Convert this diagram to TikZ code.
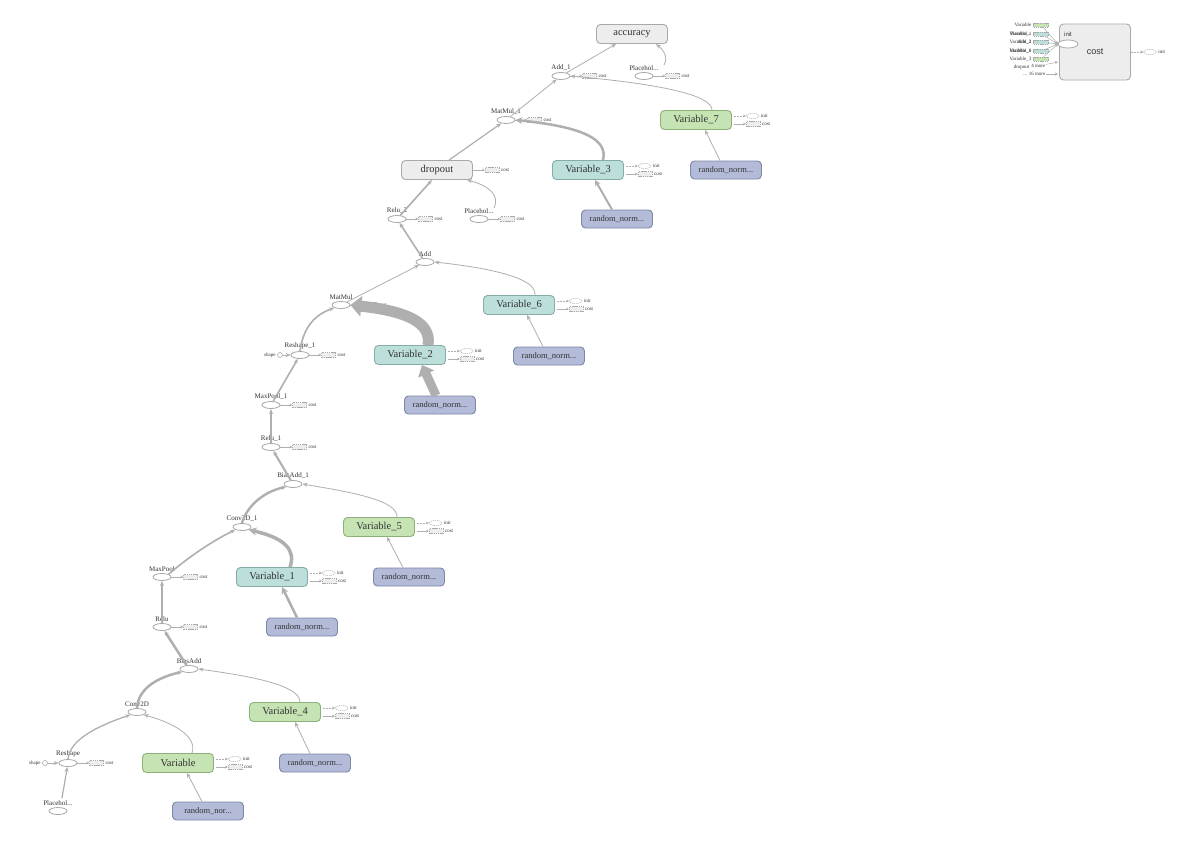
\documentclass[tikz,border=0pt]{standalone}
\usepackage{fontspec}
\setmainfont{Liberation Serif}
\newfontfamily\sansfont{Liberation Sans}
\usetikzlibrary{positioning,shapes.geometric,arrows.meta,calc}

\definecolor{grayfill}{HTML}{EDEDED}
\definecolor{grayline}{HTML}{A9A9A9}
\definecolor{greenfill}{HTML}{C6E3B3}
\definecolor{greenline}{HTML}{8DB07B}
\definecolor{tealfill}{HTML}{BCDFDB}
\definecolor{tealline}{HTML}{86ACA8}
\definecolor{bluefill}{HTML}{B3BBD8}
\definecolor{blueline}{HTML}{7D87A6}
\definecolor{flowgray}{HTML}{AFAFAF}
\definecolor{txtgray}{HTML}{333333}

\begin{document}
\begin{tikzpicture}[x=1pt,y=-1pt,
		meta/.style={
			draw,
			rounded corners=4pt,
			line width=0.9pt,
			minimum width=71pt,
			minimum height=19pt,
			inner sep=0pt,
			text=txtgray,
			font=\fontsize{10.5}{12}\selectfont
		},
		metagray/.style={meta, draw=grayline, fill=grayfill},
		vargreen/.style={meta, draw=greenline, fill=greenfill},
		varteal/.style={meta, draw=tealline, fill=tealfill},
		randblue/.style={meta, draw=blueline, fill=bluefill, minimum height=18pt,
			font=\fontsize{8.5}{10}\selectfont},
		opnode/.style={
			ellipse,
			draw=grayline,
			fill=white,
			line width=0.8pt,
			minimum width=18pt,
			minimum height=7pt,
			inner sep=0pt
		},
		oplbl/.style={font=\fontsize{7}{8}\selectfont, text=txtgray, inner sep=1.5pt},
		smalltxt/.style={font=\fontsize{5}{6}\selectfont, text=txtgray, inner sep=0.5pt},
		costbox/.style={draw=grayline, dash pattern=on 1.5pt off 0.7pt, fill=grayfill, line width=0.4pt,
			minimum width=14pt, minimum height=5pt, inner sep=0pt},
		initell/.style={ellipse, draw=grayline, dash pattern=on 1.5pt off 0.7pt, fill=white, line width=0.4pt,
			minimum width=13pt, minimum height=5pt, inner sep=0pt},
		inbox/.style={draw=grayline, dash pattern=on 1.5pt off 0.7pt, line width=0.3pt,
			minimum width=15pt, minimum height=4pt, inner sep=0pt},
		smallcirc/.style={circle, draw=grayline, fill=white, line width=0.6pt,
			minimum size=5pt, inner sep=0pt},
		flow/.style={draw=flowgray, line width=0.8pt, -{Stealth[length=5pt,width=4pt]}},
		aux/.style={draw=flowgray, line width=0.5pt, -{Stealth[length=3pt,width=3pt]}}
		]
		
		\path[fill=white] (0,0) rectangle (1190,846);
		\useasboundingbox (0,0) rectangle (1190,846);
		
		% Output part
		\node[metagray] (acc) at (632,34) {accuracy};
		\node[opnode, label={[oplbl]above:Add\_1}] (add1) at (561,76) {};
		\node[opnode, label={[oplbl]above:Placehol...}] (plc1) at (644,76) {};
		\node[opnode, label={[oplbl]above:MatMul\_1}] (matmul1) at (506,120) {};
		\node[vargreen] (var7) at (696,120) {Variable\_7};
		\node[randblue] (rn7) at (726,170) {random\_norm...};
		\node[metagray] (dropout) at (437,170) {dropout};
		\node[varteal] (var3) at (588,170) {Variable\_3};
		\node[randblue] (rn3) at (617,219) {random\_norm...};
		\node[opnode, label={[oplbl]above:Relu\_2}] (relu2) at (397,219) {};
		\node[opnode, label={[oplbl]above:Placehol...}] (plc2) at (479,219) {};
		
		% Fully connected part
		\node[opnode, label={[oplbl]above:Add}] (add) at (425,262) {};
		\node[opnode, label={[oplbl]above:MatMul}] (matmul) at (341,305) {};
		\node[varteal] (var6) at (519,305) {Variable\_6};
		\node[randblue] (rn6) at (549,356) {random\_norm...};
		\node[opnode, label={[oplbl]above:Reshape\_1}] (reshape1) at (300,355) {};
		\node[smallcirc] (shp1) at (280,355) {};
		\node[smalltxt, left=1pt of shp1] (shp1t) {shape};
		\node[varteal] (var2) at (410,355) {Variable\_2};
		\node[randblue] (rn2) at (440,405) {random\_norm...};
		
		% Second conv layer
		\node[opnode, label={[oplbl]above:MaxPool\_1}] (maxpool1) at (271,405) {};
		\node[opnode, label={[oplbl]above:Relu\_1}] (relu1) at (271,447) {};
		\node[opnode, label={[oplbl]above:BiasAdd\_1}] (biasadd1) at (293,484) {};
		\node[opnode, label={[oplbl]above:Conv2D\_1}] (conv2d1) at (242,527) {};
		\node[vargreen] (var5) at (379,527) {Variable\_5};
		\node[randblue] (rn5) at (409,577) {random\_norm...};
		\node[varteal] (var1) at (272,577) {Variable\_1};
		\node[randblue] (rn1) at (302,627) {random\_norm...};
		
		% First conv layer
		\node[opnode, label={[oplbl]above:MaxPool}] (maxpool) at (162,577) {};
		\node[opnode, label={[oplbl]above:Relu}] (relu) at (162,627) {};
		\node[opnode, label={[oplbl]above:BiasAdd}] (biasadd) at (189,669) {};
		\node[opnode, label={[oplbl]above:Conv2D}] (conv2d) at (137,712) {};
		\node[vargreen] (var4) at (285,712) {Variable\_4};
		\node[randblue] (rn4) at (315,763) {random\_norm...};
		\node[opnode, label={[oplbl]above:Reshape}] (reshape) at (68,763) {};
		\node[smallcirc] (shp0) at (45,763) {};
		\node[smalltxt, left=1pt of shp0] (shp0t) {shape};
		\node[vargreen] (var) at (178,763) {Variable};
		\node[randblue] (rnv) at (208,811) {random\_nor...};
		\node[opnode, label={[oplbl]above:Placehol...}] (plc3) at (58,811) {};
		
		% cost outputs of the ops
		\foreach \n in {add1,plc1,matmul1,dropout,relu2,plc2,matmul,reshape1,maxpool1,relu1,maxpool,relu,reshape}{
			\node[costbox, right=12pt of \n] (c\n) {};
			\draw[aux] (\n) -- (c\n);
			\node[smalltxt, right=1pt of c\n] (t\n) {cost};
		}
		
		% init and cost outputs of the variables
		\foreach \n in {var,var1,var2,var3,var4,var5,var6,var7}{
			\coordinate (ia\n) at ($(\n.east)+(2,-4)$);
			\coordinate (ca\n) at ($(\n.east)+(2,4)$);
			\node[initell, right=12pt of ia\n] (i\n) {};
			\draw[aux, densely dotted] (ia\n) -- (i\n);
			\node[smalltxt, right=1pt of i\n] (ti\n) {init};
			\node[costbox, right=12pt of ca\n] (k\n) {};
			\draw[aux] (ca\n) -- (k\n);
			\node[smalltxt, right=1pt of k\n] (tk\n) {cost};
		}
		
		% Edges, top part
		\draw[flow] (add1) -- ($(acc.south)+(-16,0)$);
		\draw[flow] ($(plc1.north)+(20,-7)$) .. controls (669,56) and (662,49) .. ($(acc.south)+(24,0)$);
		\draw[flow] (matmul1) -- (add1);
		\draw[flow] ($(var7.north)+(16,0)$) .. controls (712,95) and (660,84) .. (add1.east);
		\draw[flow, line width=1.2pt] ($(dropout.north)+(12,0)$) -- (matmul1);
		\draw[flow, line width=2.5pt, -{Stealth[length=7pt,width=7pt]}] ($(var3.north)+(15,0)$) .. controls (608,140) and (585,127) .. (matmul1.east);
		\draw[flow, line width=2pt, -{Stealth[length=6pt,width=6pt]}] ($(rn3.north)+(-5,0)$) -- ($(var3.south)+(7,0)$);
		\draw[flow] ($(rn7.north)+(-6,0)$) -- ($(var7.south)+(9,0)$);
		\draw[flow, line width=1.6pt] (relu2) -- ($(dropout.south)+(-5,0)$);
		\draw[flow] ($(plc2.north)+(15,-7)$) .. controls (500,196) and (490,186) .. ($(dropout.south)+(30,0)$);
		
		% Edges, fully connected part
		\draw[flow, line width=1.6pt] (add) -- (relu2);
		\draw[flow] (matmul) -- (add);
		\draw[flow] ($(var6.north)+(16,0)$) .. controls (537,278) and (490,268) .. (add.east);
		\draw[flow] ($(rn6.north)+(-6,0)$) -- ($(var6.south)+(8,0)$);
		\draw[flow, line width=11pt, -{Triangle[length=11pt,width=20pt]}] ($(var2.north)+(18,0)$) .. controls (432,322) and (405,311) .. (matmul.east);
		\draw[flow, line width=9pt, -{Triangle[length=10pt,width=17pt]}] ($(rn2.north)+(-4,0)$) -- ($(var2.south)+(12,0)$);
		\draw[flow, line width=1.6pt] (reshape1.north) .. controls (303,330) and (312,316) .. (matmul.south west);
		\draw[flow] (shp1) -- (reshape1);
		
		% Edges, second conv layer
		\draw[flow, line width=1.6pt] (maxpool1) -- (reshape1);
		\draw[flow, line width=2pt] (relu1) -- (maxpool1);
		\draw[flow, line width=2pt] (biasadd1) -- (relu1);
		\draw[flow, line width=2.4pt] (conv2d1.north) .. controls (246,508) and (262,492) .. (biasadd1.south west);
		\draw[flow] ($(var5.north)+(18,0)$) .. controls (398,500) and (350,492) .. (biasadd1.east);
		\draw[flow] ($(rn5.north)+(-6,0)$) -- ($(var5.south)+(8,0)$);
		\draw[flow, line width=3.5pt, -{Stealth[length=8pt,width=8pt]}] ($(var1.north)+(18,0)$) .. controls (296,550) and (285,538) .. (conv2d1.south east);
		\draw[flow, line width=2.5pt, -{Stealth[length=7pt,width=7pt]}] ($(rn1.north)+(-5,0)$) -- ($(var1.south)+(10,0)$);
		
		% Edges, first conv layer
		\draw[flow, line width=1.6pt] (maxpool.north east) .. controls (185,560) and (210,542) .. (conv2d1.south west);
		\draw[flow, line width=1.6pt] (relu) -- (maxpool);
		\draw[flow, line width=2.5pt] (biasadd) -- (relu);
		\draw[flow, line width=2.5pt] (conv2d.north) .. controls (138,690) and (155,678) .. (biasadd.south west);
		\draw[flow] ($(var4.north)+(15,0)$) .. controls (300,685) and (250,676) .. (biasadd.east);
		\draw[flow] ($(rn4.north)+(-5,0)$) -- ($(var4.south)+(10,0)$);
		\draw[flow, line width=1.3pt] (reshape.north) .. controls (70,740) and (95,727) .. (conv2d.south west);
		\draw[flow] ($(var.north)+(14,0)$) .. controls (198,735) and (170,722) .. (conv2d.south east);
		\draw[flow] ($(rnv.north)+(-6,0)$) -- ($(var.south)+(9,0)$);
		\draw[flow, line width=1.2pt] ($(plc3.north)+(4,-9)$) -- (reshape);
		\draw[flow] (shp0) -- (reshape);
		
		% cost scope, top right
		\node[metagray, minimum height=56pt, font=\sansfont\fontsize{9}{10}\selectfont] (costm) at (1095,52) {cost};
		\node[opnode, minimum width=20pt, minimum height=8pt] (costi) at (1068,44) {};
		\node[smalltxt, font=\sansfont\fontsize{6}{7}\selectfont] (costil) at (1068,34) {init};
		\coordinate (cin) at (1058,44);
		\coordinate (cin6) at (1058,62);
		\coordinate (cin7) at (1058,74);
		\foreach \i/\yy/\txt/\col in {1/25/Variable/greenfill, 3/42/Variable\_2/tealfill, 4/51/Variable\_6/tealfill, 5/59/Variable\_3/greenfill}{
			\node[smalltxt, anchor=east] (inl\i) at (1032,\yy) {\txt};
			\node[inbox, fill=\col] (inb\i) at (1041,\yy) {};
			\draw[aux] (inb\i) -- (cin);
		}
		\node[smalltxt, anchor=east] (inl2) at (1032,34) {Placehol...};
		\node[inbox, fill=tealfill] (inb2) at (1041,34) {};
		\draw[aux] (inb2) -- (cin);
		\node[smalltxt, anchor=east] (inx2) at (1032,34) {Variable\_1};
		\node[smalltxt, anchor=east] (inx3) at (1032,42) {Add\_1};
		\node[smalltxt, anchor=east] (inx4) at (1032,51) {MatMul\_1};
		\node[smalltxt, anchor=east] (inl6) at (1030,67) {dropout};
		\node[smalltxt, anchor=east] (inx6) at (1046,66) {4 more};
		\draw[aux] (inx6) -- (cin6);
		\node[smalltxt, anchor=east] (inl7) at (1046,74) {... 16 more};
		\draw[aux] (inl7) -- (cin7);
		\node[initell] (costo) at (1150,52) {};
		\draw[aux, densely dotted] (costm) -- (costo);
		\node[smalltxt, right=1pt of costo] (costot) {init};
		
	\end{tikzpicture}
\end{document}
